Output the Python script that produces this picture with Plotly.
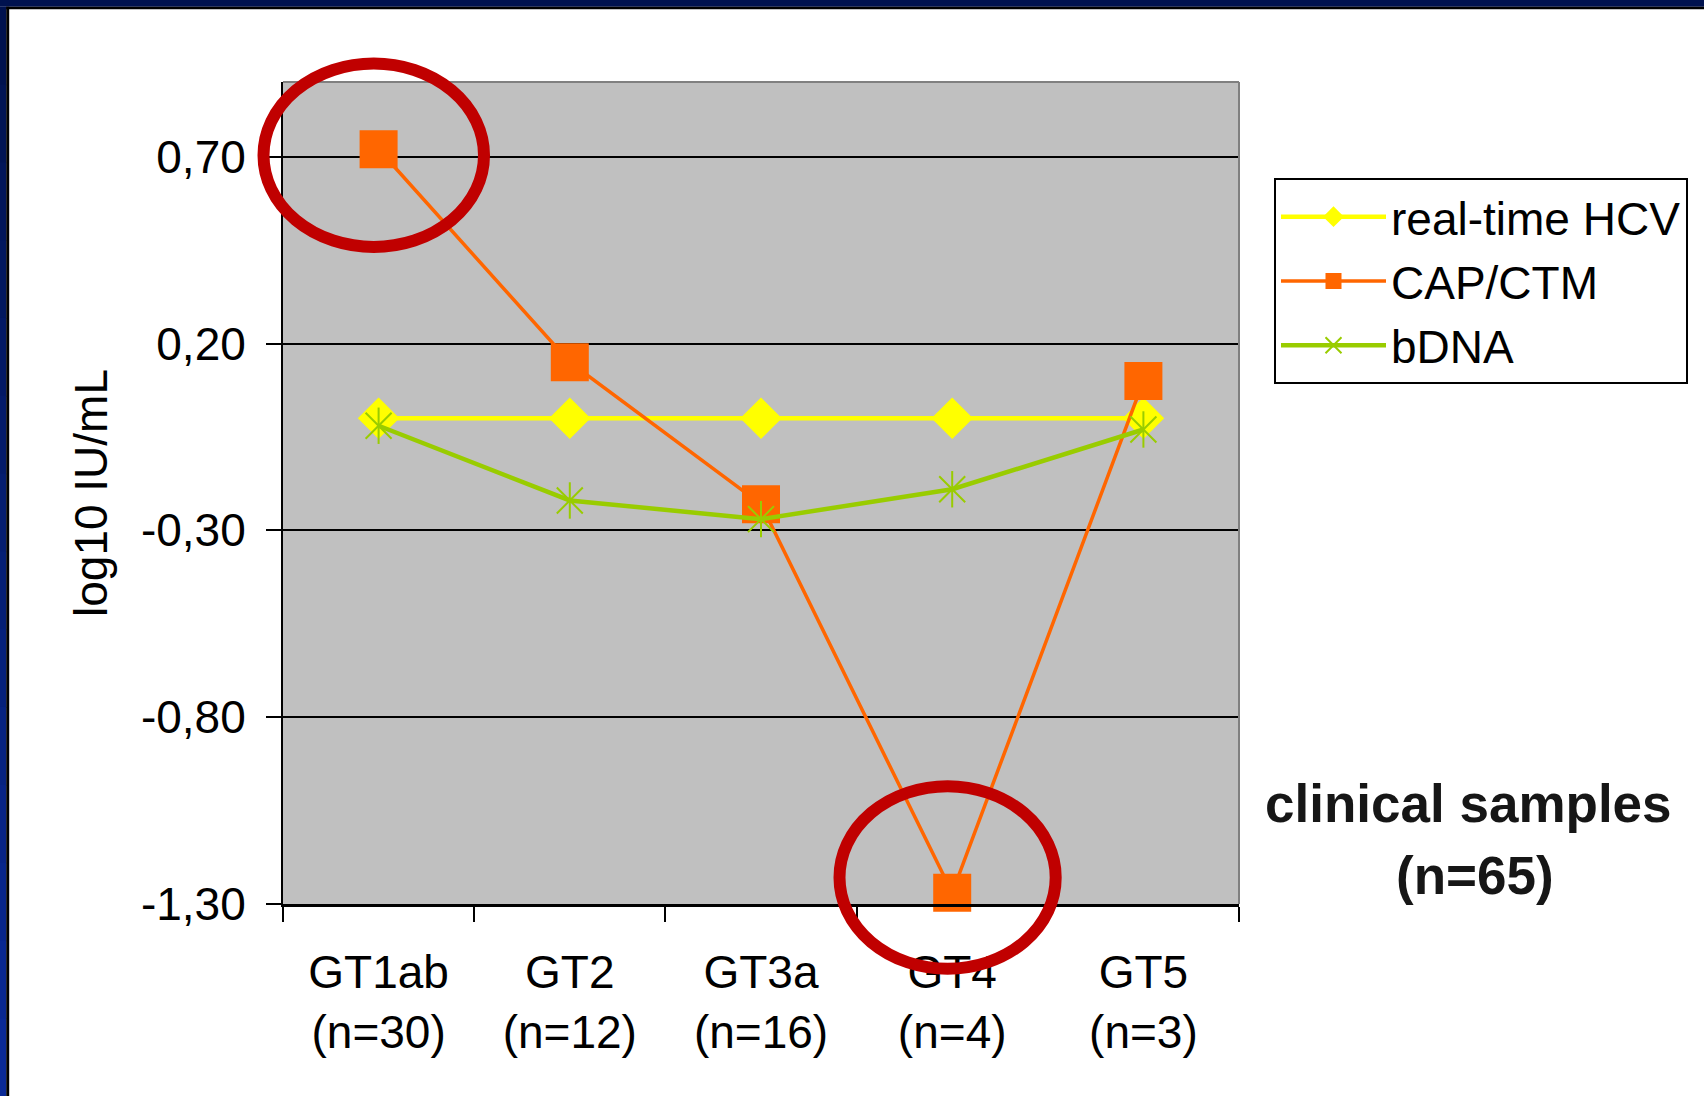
import plotly.graph_objects as go

# ---------------- data ----------------
categories = ["GT1ab", "GT2", "GT3a", "GT4", "GT5"]
category_labels = ["GT1ab<br>(n=30)", "GT2<br>(n=12)", "GT3a<br>(n=16)", "GT4<br>(n=4)", "GT5<br>(n=3)"]
realtime_hcv = [0.00, 0.00, 0.00, 0.00, 0.00]
cap_ctm = [0.72, 0.15, -0.23, -1.27, 0.10]
bdna = [-0.02, -0.22, -0.27, -0.19, -0.03]
y_tick_values = [0.70, 0.20, -0.30, -0.80, -1.30]
y_tick_labels = ["0,70", "0,20", "-0,30", "-0,80", "-1,30"]

# ---------------- layout geometry ----------------
W, H = 1704, 1096
L, R, T, B = 283, 465, 82, 192
PW = W - L - R
PH = H - T - B


def px(xp):
    return (xp - L) / PW


def py(yp):
    return (H - B - yp) / PH


FONT = "Liberation Sans, Arial, sans-serif"

fig = go.Figure()

fig.add_trace(go.Scatter(
    x=categories, y=realtime_hcv, name="real-time HCV", mode="lines+markers",
    legendgroup="g1",
    line=dict(color="#FFFF00", width=4.5),
    marker=dict(symbol="diamond", size=32, color="#FFFF00", line=dict(width=0)),
    cliponaxis=False,
))
fig.add_trace(go.Scatter(
    x=categories, y=cap_ctm, name="CAP/CTM", mode="lines+markers",
    legendgroup="g2",
    line=dict(color="#FF6600", width=3.5),
    marker=dict(symbol="square", size=38, color="#FF6600", line=dict(width=0)),
    cliponaxis=False,
))
fig.add_trace(go.Scatter(
    x=categories, y=bdna, name="bDNA", mode="lines+markers",
    legendgroup="g3",
    line=dict(color="#99CC00", width=4.5),
    marker=dict(symbol="x-thin-open", size=26, color="#99CC00",
                line=dict(color="#99CC00", width=2)),
    cliponaxis=False,
))
fig.add_trace(go.Scatter(
    x=categories, y=bdna, mode="markers", showlegend=False, hoverinfo="skip",
    legendgroup="g3",
    marker=dict(symbol="line-ns-open", size=26, color="#99CC00",
                line=dict(color="#99CC00", width=2)),
    cliponaxis=False,
))

shapes = []
# slide frame: navy top bar and left bar (gradient), black inner line
shapes.append(dict(type="rect", xref="paper", yref="paper",
                   x0=px(0), x1=px(W), y0=py(0), y1=py(6.7),
                   fillcolor="#00124F", line=dict(width=0), layer="below"))
nseg = 14
c0 = (0x00, 0x12, 0x4F)
c1 = (0x0A, 0x2A, 0x96)
for i in range(nseg):
    t = i / (nseg - 1)
    col = "rgb(%d,%d,%d)" % tuple(round(a + (b - a) * t) for a, b in zip(c0, c1))
    y0p = 6.7 + (H - 6.7) * i / nseg
    y1p = 6.7 + (H - 6.7) * (i + 1) / nseg + 1
    shapes.append(dict(type="rect", xref="paper", yref="paper",
                       x0=px(0), x1=px(6.2), y0=py(y0p), y1=py(y1p),
                       fillcolor=col, line=dict(width=0), layer="below"))
shapes.append(dict(type="rect", xref="paper", yref="paper",
                   x0=px(6.2), x1=px(W), y0=py(6.7), y1=py(9.3),
                   fillcolor="black", line=dict(width=0), layer="below"))
shapes.append(dict(type="rect", xref="paper", yref="paper",
                   x0=px(6.2), x1=px(9.2), y0=py(6.7), y1=py(H),
                   fillcolor="black", line=dict(width=0), layer="below"))

# gray top and right edges of plot area
shapes.append(dict(type="line", xref="paper", yref="paper", x0=0, x1=1, y0=1, y1=1,
                   line=dict(color="#808080", width=2), layer="above"))
shapes.append(dict(type="line", xref="paper", yref="paper", x0=1, x1=1, y0=0, y1=1,
                   line=dict(color="#808080", width=2), layer="above"))

# red highlight ellipses
shapes.append(dict(type="circle", xref="paper", yref="paper",
                   x0=px(263.5), x1=px(484), y0=py(247), y1=py(63.5),
                   line=dict(color="#C00000", width=12), layer="above"))
shapes.append(dict(type="circle", xref="paper", yref="paper",
                   x0=px(839.5), x1=px(1055.7), y0=py(968.8), y1=py(786.2),
                   line=dict(color="#C00000", width=12), layer="above"))

annotations = [
    dict(text="<b>clinical samples</b>", xref="paper", yref="paper",
         x=px(1468), y=py(803), xanchor="center", yanchor="middle", showarrow=False,
         font=dict(family=FONT, size=53, color="#161616")),
    dict(text="<b>(n=65)</b>", xref="paper", yref="paper",
         x=px(1475), y=py(875), xanchor="center", yanchor="middle", showarrow=False,
         font=dict(family=FONT, size=53, color="#161616")),
]

fig.update_layout(
    width=W, height=H,
    margin=dict(l=L, r=R, t=T, b=B, pad=0),
    paper_bgcolor="white",
    plot_bgcolor="#C0C0C0",
    font=dict(family=FONT, color="black"),
    showlegend=True,
    legend=dict(
        x=px(1274), y=py(178.3), xanchor="left", yanchor="top",
        bgcolor="white", bordercolor="black", borderwidth=2,
        font=dict(family=FONT, size=46, color="black"),
        itemwidth=105,
        traceorder="grouped", tracegroupgap=1.5,
    ),
    shapes=shapes,
    annotations=annotations,
    xaxis=dict(
        type="category", range=[-0.5, 4.5],
        tickmode="array", tickvals=categories, ticktext=category_labels,
        tickson="boundaries", ticks="outside", ticklen=15, tickwidth=2, tickcolor="black",
        showline=True, linecolor="black", linewidth=2.5,
        showgrid=False, zeroline=False,
        tickfont=dict(family=FONT, size=46, color="black"),
        ticklabelstandoff=26,
    ),
    yaxis=dict(
        range=[-1.30, 0.90],
        tickmode="array", tickvals=y_tick_values, ticktext=y_tick_labels,
        ticks="outside", ticklen=15, tickwidth=2, tickcolor="black",
        showline=True, linecolor="black", linewidth=2,
        showgrid=True, gridcolor="black", gridwidth=2,
        zeroline=False,
        tickfont=dict(family=FONT, size=46, color="black"),
        ticklabelstandoff=11,
        title=dict(text="log10 IU/mL", font=dict(family=FONT, size=46, color="black"), standoff=19),
    ),
)

fig.write_html(
    "out.html",
    config={"displayModeBar": False},
    post_script="document.body.style.margin='0';document.body.style.overflow='hidden';",
)
